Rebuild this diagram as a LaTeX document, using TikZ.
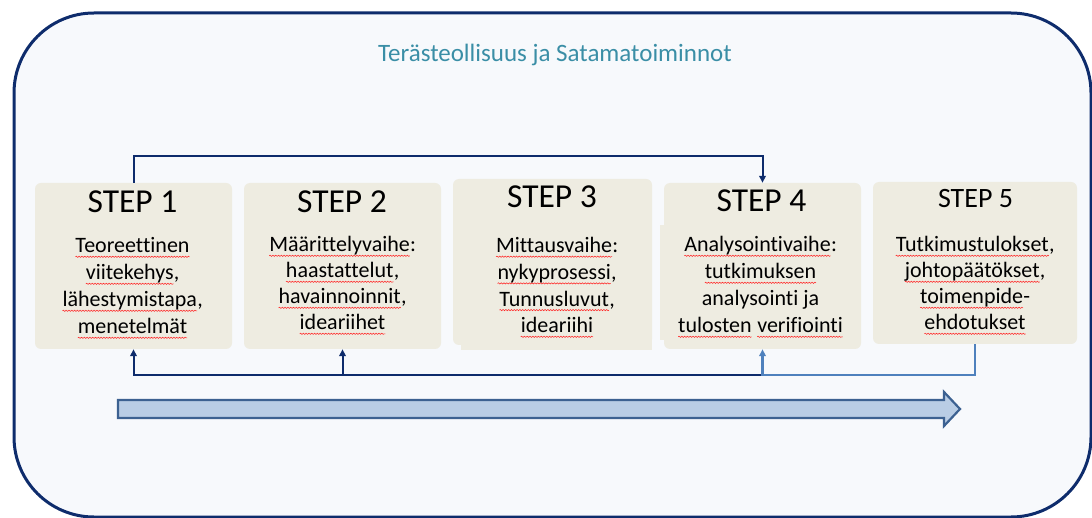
\documentclass[tikz,border=0pt]{standalone}
\usepackage{fontspec}
\setmainfont{Carlito}[Ligatures=NoCommon]
\usetikzlibrary{arrows.meta,decorations.pathmorphing}

\definecolor{navy}{HTML}{0E2C6C}
\definecolor{lightconn}{HTML}{4F81BD}
\definecolor{tanbox}{HTML}{EEECE1}
\definecolor{panel}{HTML}{F7F9FC}
\definecolor{titleteal}{HTML}{3A8EA6}
\definecolor{bandfill}{HTML}{B9CDE5}
\definecolor{banddraw}{HTML}{3C6191}

% word with a red wavy spell-check underline
\newcommand\spellwave[1]{\tikz[baseline=(sw.base)]{%
  \node[inner sep=0pt,outer sep=0pt,draw=none,fill=none,text=black,anchor=base](sw){#1};
  \draw[draw=red!85!white,line width=0.55pt,decorate,
        decoration={snake,amplitude=0.6pt,segment length=2.8pt}]
    ([yshift=-3.8pt]sw.base west) -- ([yshift=-3.8pt]sw.base east);}}

\tikzset{
  stepbox/.style={fill=tanbox,draw=none,rounded corners=6pt,inner sep=0pt},
  steplabel/.style={font=\fontsize{33.5}{38}\selectfont,anchor=base,inner sep=0pt},
  bodytext/.style={font=\fontsize{22}{27}\selectfont,align=center,anchor=base,inner sep=0pt},
  darkline/.style={draw=navy,line width=2pt,-{Triangle[length=7pt,width=6.5pt]}},
  lightline/.style={draw=lightconn,line width=2.5pt,-{Triangle[length=7pt,width=6.5pt]}},
}

\begin{document}
\begin{tikzpicture}[x=1pt,y=-1pt]
\useasboundingbox (0,0) rectangle (1092,518);

% outer panel
\draw[draw=navy,line width=3pt,fill=panel,rounded corners=80pt] (14,13) rectangle (1091,517);

\node[font=\fontsize{25}{30}\selectfont,text=titleteal,anchor=base] (title) at (555,62)
  {Terästeollisuus ja Satamatoiminnot};

% step boxes
\fill[tanbox] (461,262) rectangle (652,350);
\fill[tanbox] (660,225) rectangle (700,340);
\node[stepbox,minimum width=197pt,minimum height=166pt] (s1) at (133.5,266) {};
\node[stepbox,minimum width=197pt,minimum height=166pt] (s2) at (342.5,266) {};
\node[stepbox,minimum width=199pt,minimum height=166pt] (s3) at (552.5,262) {};
\node[stepbox,minimum width=197pt,minimum height=166pt] (s4) at (762.5,266) {};
\node[stepbox,minimum width=204pt,minimum height=162pt] (s5) at (975,263) {};

% step headings
\node[steplabel] (h1) at (132.5,213) {STEP 1};
\node[steplabel] (h2) at (342,213) {STEP 2};
\node[steplabel] (h3) at (552,208) {STEP 3};
\node[steplabel] (h4) at (761.5,212) {STEP 4};
\node[steplabel,font=\fontsize{28}{32}\selectfont] (h5) at (975.5,208) {STEP 5};

% step contents (anchored at the baseline of the last line)
\node[bodytext] (b1) at (132.5,334)
  {\spellwave{Teoreettinen}\\\spellwave{viitekehys},\\\spellwave{lähestymistapa},\\\spellwave{menetelmät}};
\node[bodytext,font=\fontsize{22}{26}\selectfont] (b2) at (342.5,330)
  {\spellwave{Määrittelyvaihe}:\\\spellwave{haastattelut},\\\spellwave{havainnoinnit},\\\spellwave{ideariihet}};
\node[bodytext,font=\fontsize{22}{26.7}\selectfont] (b3) at (557,333)
  {\spellwave{Mittausvaihe}:\\\spellwave{nykyprosessi},\\\spellwave{Tunnusluvut},\\\spellwave{ideariihi}};
\node[bodytext] (b4) at (760.5,333)
  {\spellwave{Analysointivaihe}:\\\spellwave{tutkimuksen}\\analysointi ja\\\spellwave{tulosten} \spellwave{verifiointi}};
\node[bodytext,font=\fontsize{22}{26}\selectfont] (b5) at (975,330)
  {\spellwave{Tutkimustulokset},\\\spellwave{johtopäätökset},\\\spellwave{toimenpide}-\\\spellwave{ehdotukset}};

% connectors
\coordinate (topbus) at (0,156);
\coordinate (lowbus) at (0,375);
\draw[darkline] (s1.north) |- (s4.north |- topbus) -- (s4.north);
\draw[darkline] (s4.south |- lowbus) -| (s1.south);
\draw[darkline] (s2.south |- lowbus) -- (s2.south);
\draw[lightline] (s5.south) |- (s4.south |- lowbus) -- (s4.south);

% progress arrow
\draw[draw=banddraw,fill=bandfill,line width=2.2pt]
  (118,400) -- (944,400) -- (944,392) -- (960,409) -- (944,426) -- (944,418) -- (118,418) -- cycle;
\end{tikzpicture}
\end{document}
